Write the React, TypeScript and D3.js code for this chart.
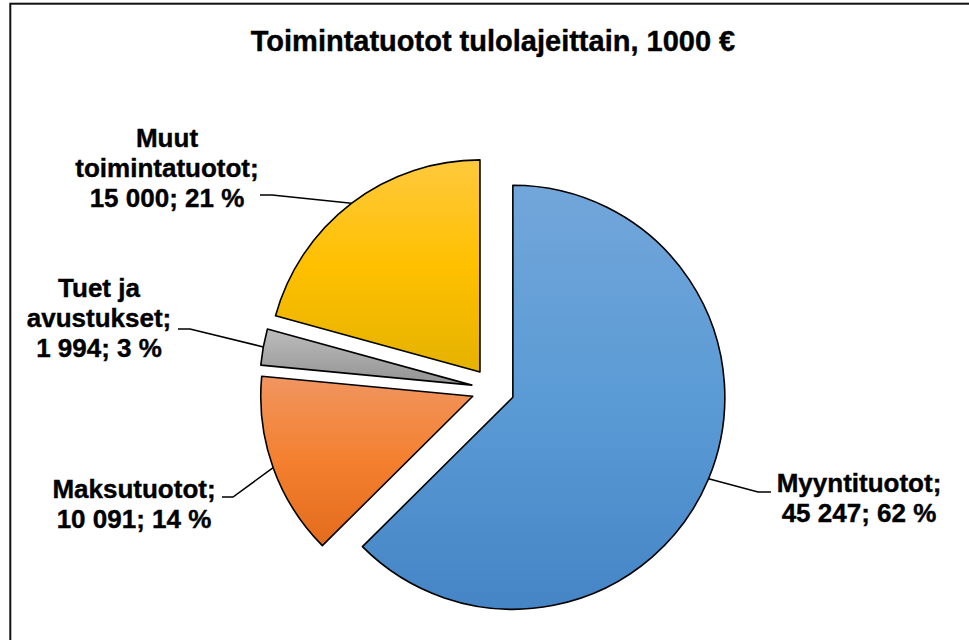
import React from 'react';
import * as d3 from 'd3';

// chart data
const categories = ['Myyntituotot', 'Maksutuotot', 'Tuet ja avustukset', 'Muut toimintatuotot'];
const values = [45247, 10091, 1994, 15000];
const percentLabels = ['62 %', '14 %', '3 %', '21 %'];
const title = 'Toimintatuotot tulolajeittain, 1000 €';

// fill gradients: top, middle, bottom
const gradientStops = [
  ['#72a6da', '#5b9bd5', '#4585c6'],
  ['#f19560', '#f4802f', '#e36b1d'],
  ['#bcbcbc', '#a8a8a8', '#929292'],
  ['#ffc93d', '#ffc000', '#e4b200'],
];

// label layout (how the name wraps, where the text and leader elbow sit)
const labelLayout = [
  { lines: ['Myyntituotot;'], x: 859, y: 492, elbow: [758, 492], end: [771, 492] },
  { lines: ['Maksutuotot;'], x: 134, y: 498, elbow: [233, 497], end: [222, 497] },
  { lines: ['Tuet ja', 'avustukset;'], x: 99, y: 297, elbow: [190, 329], end: [178, 329] },
  { lines: ['Muut', 'toimintatuotot;'], x: 167, y: 147, elbow: [272, 195], end: [260, 195] },
];

const W = 969;
const H = 640;
const cx = 493;
const cy = 389;
const radius = 212;
const explode = 21.5;
const lineH = 30;
const font = '"Liberation Sans", Arial, sans-serif';

const fmt = (v: number) => d3.format(',')(v).replace(/,/g, ' ');

export default function App() {
  const pie = d3.pie<number>().sort(null).value((d) => d);
  const arcs = pie(values);
  const arcGen = d3.arc<d3.PieArcDatum<number>>().innerRadius(0).outerRadius(radius);

  return (
    <svg
      width={W}
      height={H}
      style={{ position: 'absolute', left: 0, top: 0, background: '#fff' }}
    >
      <defs>
        {gradientStops.map((s, i) => (
          <linearGradient key={i} id={'grad' + i} x1="0" y1="0" x2="0" y2="1">
            <stop offset="0%" stopColor={s[0]} />
            <stop offset="50%" stopColor={s[1]} />
            <stop offset="100%" stopColor={s[2]} />
          </linearGradient>
        ))}
      </defs>
      <rect x={10.3} y={3.7} width={W + 50} height={H + 50} fill="#fff" stroke="#111" strokeWidth={2} />
      <text
        x={493}
        y={51}
        textAnchor="middle"
        fontFamily={font}
        fontWeight="bold"
        fontSize={29}
        fill="#000"
        stroke="#000"
        strokeWidth={0.4}
      >
        {title}
      </text>

      {arcs.map((a, i) => {
        const mid = (a.startAngle + a.endAngle) / 2;
        const dx = Math.sin(mid) * explode;
        const dy = -Math.cos(mid) * explode;
        const ex = cx + dx;
        const ey = cy + dy;
        const px = ex + Math.sin(mid) * radius;
        const py = ey - Math.cos(mid) * radius;
        const lay = labelLayout[i];
        const lines = [...lay.lines, fmt(values[i]) + '; ' + percentLabels[i]];
        return (
          <g key={categories[i]}>
            <path
              d={arcGen(a) || ''}
              transform={`translate(${ex},${ey})`}
              fill={`url(#grad${i})`}
              stroke="#000"
              strokeWidth={1.6}
              strokeLinejoin="round"
            />
            <polyline
              points={`${px},${py} ${lay.elbow[0]},${lay.elbow[1]} ${lay.end[0]},${lay.end[1]}`}
              fill="none"
              stroke="#000"
              strokeWidth={1.5}
            />
            <text
              textAnchor="middle"
              fontFamily={font}
              fontWeight="bold"
              fontSize={26}
              fill="#000"
              stroke="#000"
              strokeWidth={0.4}
            >
              {lines.map((l, j) => (
                <tspan key={j} x={lay.x} y={lay.y + j * lineH}>
                  {l}
                </tspan>
              ))}
            </text>
          </g>
        );
      })}
    </svg>
  );
}
